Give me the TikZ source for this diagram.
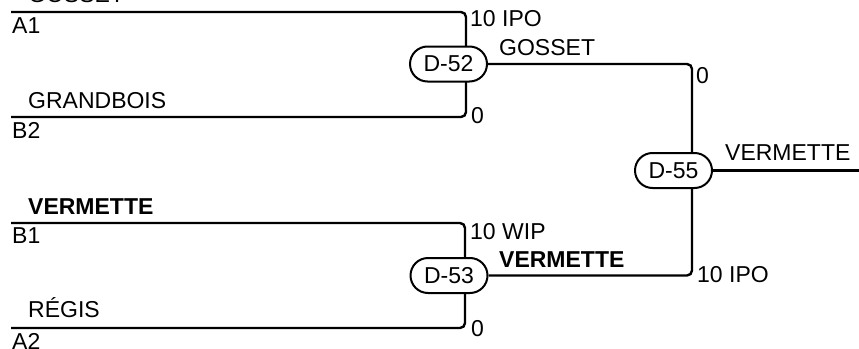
\documentclass[tikz,border=0pt]{standalone}
\usepackage{fontspec}
\setmainfont{Liberation Sans}
\usetikzlibrary{shapes.misc,backgrounds}
\begin{document}
\begin{tikzpicture}[x=1pt,y=-1pt,
  every node/.style={font=\fontsize{23}{27}\selectfont},
  lbl/.style={anchor=base west,inner sep=0pt},
  game/.style={rounded rectangle,draw,line width=2pt,fill=white,minimum width=77pt,minimum height=35pt,inner sep=0pt},
  wire/.style={line width=2.4pt,rounded corners=5pt}]
\useasboundingbox (0,0) rectangle (859,348);
% games
\node[game] (d52) at (448.5,64) {D-52};
\node[game] (d53) at (449,275.5) {D-53};
\node[game] (d55) at (673.5,170.5) {D-55};
% line ends
\coordinate (a1) at (11,12);
\coordinate (b2) at (11,117);
\coordinate (b1) at (11,223);
\coordinate (a2) at (11,328);
\coordinate (j52) at (466,64);
\coordinate (j53) at (465,275.5);
\coordinate (j55) at (692,170.5);
\coordinate (out) at (859,170.5);
\begin{scope}[on background layer]
\draw[wire] (a1) -| (j52) |- (b2);
\draw[wire] (b1) -| (j53) |- (a2);
\draw[wire] (d52.east) -| (j55) |- (d53.east);
\draw[wire] (d55.east) -- (out);
\end{scope}
% names
\node[lbl] (t1) at (28,2) {GOSSET};
\node[lbl] (t2) at (12,33) {A1};
\node[lbl] (t3) at (28,108) {GRANDBOIS};
\node[lbl] (t4) at (12,138) {B2};
\node[lbl] (t5) at (28,214) {\bfseries VERMETTE};
\node[lbl] (t6) at (12,243) {B1};
\node[lbl] (t7) at (28,317) {RÉGIS};
\node[lbl] (t8) at (12,349) {A2};
% scores
\node[lbl] (s1) at (470,27) {10 IPO};
\node[lbl] (s2) at (471,123) {0};
\node[lbl] (s3) at (470,239) {10 WIP};
\node[lbl] (s4) at (471,336) {0};
\node[lbl] (s5) at (696,83) {0};
\node[lbl] (s6) at (697,282) {10 IPO};
% winners
\node[lbl] (w1) at (499,55) {GOSSET};
\node[lbl] (w2) at (499,267) {\bfseries VERMETTE};
\node[lbl] (w3) at (725,160) {VERMETTE};
\end{tikzpicture}
\end{document}
